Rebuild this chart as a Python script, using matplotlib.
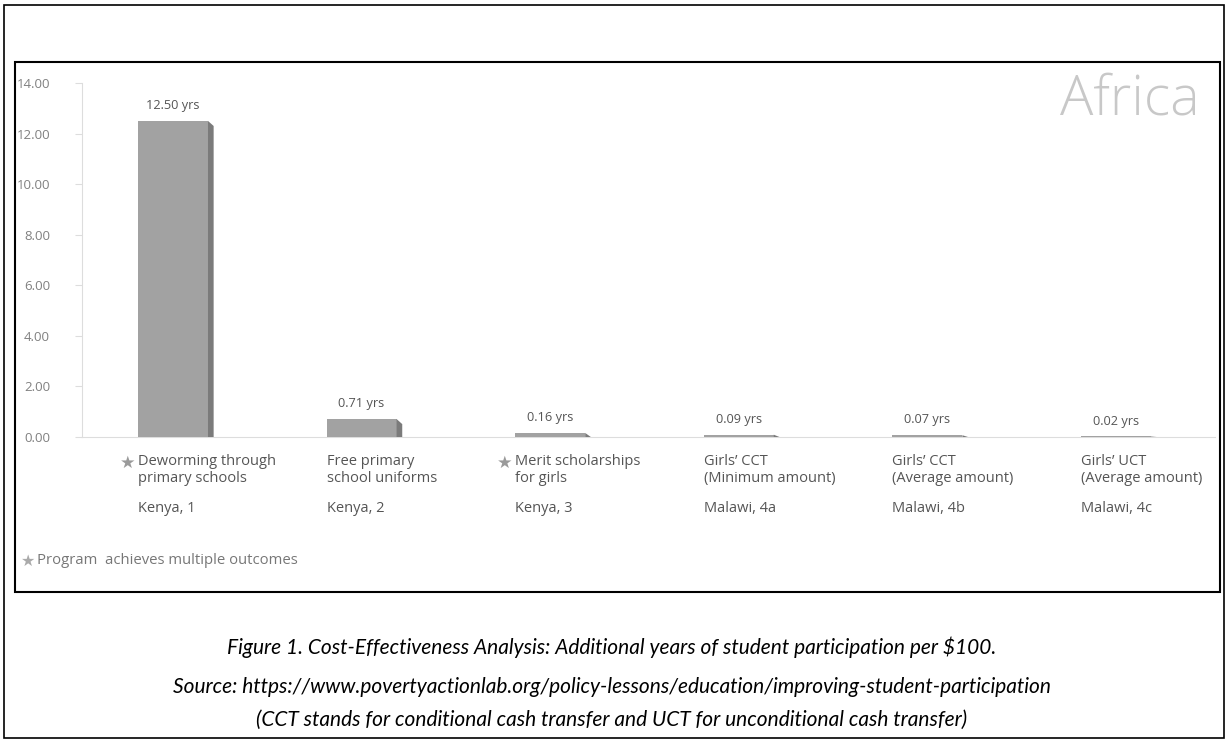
import matplotlib.pyplot as plt
from matplotlib.patches import Rectangle

programs = ["Deworming through\nprimary schools", "Free primary\nschool uniforms",
            "Merit scholarships\nfor girls", "Girls\u2019 CCT\n(Minimum amount)",
            "Girls\u2019 CCT\n(Average amount)", "Girls\u2019 UCT\n(Average amount)"]
countries = ["Kenya, 1", "Kenya, 2", "Kenya, 3", "Malawi, 4a", "Malawi, 4b", "Malawi, 4c"]
values = [12.50, 0.71, 0.16, 0.09, 0.07, 0.02]
multiple = [True, False, True, False, False, False]
yticks = [0, 2, 4, 6, 8, 10, 12, 14]

W, H = 1227, 740
fig = plt.figure(figsize=(W / 100, H / 100), dpi=100)
plt.rcParams['font.family'] = ['Open Sans', 'DejaVu Sans']

# axes placed in pixel terms
ax = fig.add_axes([82 / W, (H - 437) / H, (1215 - 82) / W, (437 - 83) / H])
ax.set_xlim(-0.4825, 5.525)
ax.set_ylim(0, 14)

bw = 0.371
depth = 0.03
drop = 0.2
x = list(range(len(values)))
ax.bar(x, values, width=bw, color='#a2a2a2', zorder=3)
for i, v in enumerate(values):
    x1 = i + bw / 2
    top2 = max(v - drop, 0)
    ax.fill([x1, x1, x1 + depth, x1 + depth], [0, v, top2, 0],
            color='#7b7b7b', lw=0, zorder=3)
    ax.annotate(f"{v:.2f} yrs", (i, v), xytext=(0, 11), textcoords='offset points',
                ha='center', va='center', fontsize=9.2, color='#555555')

    xl = i - bw / 2
    ax.annotate(programs[i], (xl, 0), xycoords=('data', 'axes fraction'),
                xytext=(0, -12), textcoords='offset points', ha='left', va='top',
                fontsize=10.5, color='#555555', linespacing=1.2)
    ax.annotate(countries[i], (xl, 0), xycoords=('data', 'axes fraction'),
                xytext=(0, -46), textcoords='offset points', ha='left', va='top',
                fontsize=10.5, color='#555555')
    if multiple[i]:
        ax.annotate("\u2605", (xl, 0), xycoords=('data', 'axes fraction'),
                    xytext=(-2, -12), textcoords='offset points', ha='right', va='top',
                    fontsize=12.5, color='#9a9a9a', family='DejaVu Sans')

for s in ['top', 'right']:
    ax.spines[s].set_visible(False)
ax.spines['left'].set_color('#dddddd')
ax.spines['bottom'].set_color('#dddddd')
ax.set_xticks([])
ax.set_yticks(yticks)
ax.set_yticklabels([f"{t:.2f}" for t in yticks])
ax.tick_params(axis='y', length=5, color='#dddddd', labelcolor='#808080',
               labelsize=9.5, pad=18)

fig.text(1200 / W, (H - 100) / H, "Africa", ha='right', va='center',
         fontsize=40, color='#c8c8c8', fontweight='light')

fig.text(21 / W, (H - 561) / H, "\u2605", ha='left', va='center', fontsize=11.5,
         color='#aaaaaa', family='DejaVu Sans')
fig.text(37 / W, (H - 561) / H, "Program  achieves multiple outcomes", ha='left',
         va='center', fontsize=10.7, color='#777777')

# borders
fig.add_artist(Rectangle((15 / W, (H - 592) / H), (1220 - 15) / W, (592 - 62) / H,
                         transform=fig.transFigure, fill=False, lw=1.5, ec='black'))
fig.add_artist(Rectangle((4 / W, 2 / H), (1224 - 4) / W, (737 - 4) / H,
                         transform=fig.transFigure, fill=False, lw=1.2, ec='black'))

captions = ["Figure 1. Cost-Effectiveness Analysis: Additional years of student participation per $100.",
            "Source: https://www.povertyactionlab.org/policy-lessons/education/improving-student-participation",
            "(CCT stands for conditional cash transfer and UCT for unconditional cash transfer)"]
cap_y = [647, 687, 720]
for c, yy in zip(captions, cap_y):
    fig.text(612 / W, (H - yy) / H, c, ha='center', va='center', fontsize=15,
             style='italic', family=['Lato', 'DejaVu Sans'], color='black')

fig.savefig('out.png', dpi=100)
